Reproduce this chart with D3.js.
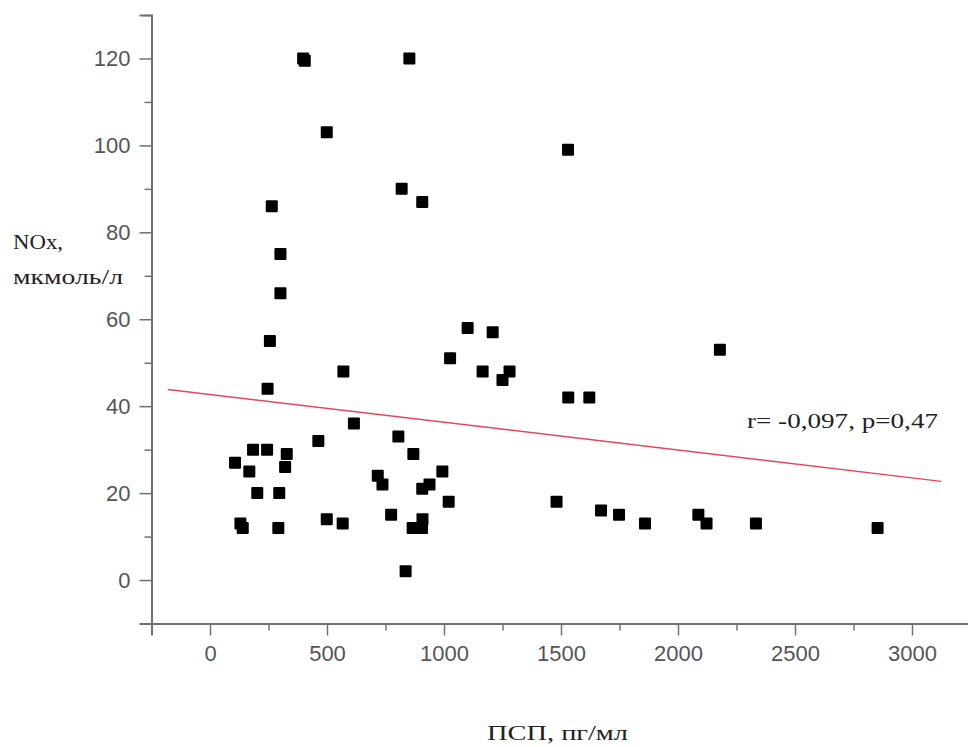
<!DOCTYPE html>
<html>
<head>
<meta charset="utf-8">
<script src="https://cdn.jsdelivr.net/npm/d3@7"></script>
<style>
  html, body { margin: 0; padding: 0; background: #fff; }
  .tick-label { font-family: "Liberation Sans", Arial, sans-serif; font-size: 22px; fill: #555; }
  .title { font-family: "Liberation Serif", "Times New Roman", serif; font-size: 22px; fill: #222; }
</style>
</head>
<body>
<div id="chart"></div>
<script>
// JS module
const WIDTH = 968;
const HEIGHT = 747;

// ПСП, пг/мл
const pspValues = [398, 405, 852, 499, 819, 907, 264, 301, 301, 256, 246, 570, 463, 615,
  107, 168, 184, 244, 328, 321, 202, 296, 130, 140, 292, 499, 567, 805, 869, 717, 737,
  993, 907, 938, 1020, 774, 866, 906, 908, 836, 1101, 1208, 1026, 1165, 1280, 1250,
  1530, 1531, 1621, 1481, 1671, 1748, 1859, 2087, 2122, 2179, 2333, 2853];
// NOx, мкмоль/л
const noxValues = [120, 119.5, 120, 103, 90, 87, 86, 75, 66, 55, 44, 48, 32, 36,
  27, 25, 30, 30, 29, 26, 20, 20, 13, 12, 12, 14, 13, 33, 29, 24, 22,
  25, 21, 22, 18, 15, 12, 12, 14, 2, 58, 57, 51, 48, 48, 46,
  99, 42, 42, 18, 16, 15, 13, 15, 13, 53, 13, 12];

const xMajorTicks = [0, 500, 1000, 1500, 2000, 2500, 3000];
const xMinorTicks = [-250, 250, 750, 1250, 1750, 2250, 2750, 3250];
const yMajorTicks = [0, 20, 40, 60, 80, 100, 120];
const yMinorTicks = [-10, 10, 30, 50, 70, 90, 110, 130];

// linear fit shown on the chart
const fitIntercept = 42.7;
const fitSlope = -0.0064;
const fitRange = [-180, 3125];
const fitLabel = "r= -0,097, p=0,47";

const xTitle = "ПСП, пг/мл";
const yTitleLines = ["NOx,", "мкмоль/л"];

const svg = d3.select("#chart")
  .append("svg")
  .attr("width", WIDTH)
  .attr("height", HEIGHT);

const x = d3.scaleLinear().domain([-250, 3250]).range([151.5, 970.5]);
const y = d3.scaleLinear().domain([-10, 130]).range([623.5, 15]);

const axisColor = "#707070";

// Y axis
const yAxis = svg.append("g").attr("transform", `translate(${x(-250)},0)`);
yAxis.call(d3.axisLeft(y).tickValues(yMajorTicks).tickSize(12).tickPadding(9).tickFormat(d3.format("d")));
yAxis.append("g")
  .call(d3.axisLeft(y).tickValues(yMinorTicks).tickSize(7).tickFormat(""))
  .select(".domain").remove();

// X axis
const xAxis = svg.append("g").attr("transform", `translate(0,${y(-10)})`);
xAxis.call(d3.axisBottom(x).tickValues(xMajorTicks).tickSize(12).tickPadding(10).tickFormat(d3.format("d")));
xAxis.append("g")
  .call(d3.axisBottom(x).tickValues(xMinorTicks).tickSize(7).tickFormat(""))
  .select(".domain").remove();

svg.selectAll(".domain").attr("stroke", axisColor).attr("stroke-width", 2);
svg.selectAll(".tick line").attr("stroke", axisColor).attr("stroke-width", 1.5);
svg.selectAll(".tick text")
  .attr("class", "tick-label")
  .attr("font-family", null)
  .attr("font-size", null)
  .attr("fill", null);

// regression line
svg.append("line")
  .attr("x1", x(fitRange[0]))
  .attr("y1", y(fitIntercept + fitSlope * fitRange[0]))
  .attr("x2", x(fitRange[1]))
  .attr("y2", y(fitIntercept + fitSlope * fitRange[1]))
  .attr("stroke", "#e0485e")
  .attr("stroke-width", 1.5);

// points
const points = pspValues.map((v, i) => ({ psp: v, nox: noxValues[i] }));
const SIZE = 12;
svg.append("g")
  .selectAll("rect")
  .data(points)
  .join("rect")
  .attr("x", d => x(d.psp) - SIZE / 2)
  .attr("y", d => y(d.nox) - SIZE / 2)
  .attr("width", SIZE)
  .attr("height", SIZE)
  .attr("rx", 1)
  .attr("fill", "#000");

// annotation
svg.append("text")
  .attr("class", "title")
  .attr("x", 747)
  .attr("y", 428)
  .attr("textLength", 191)
  .attr("lengthAdjust", "spacingAndGlyphs")
  .text(fitLabel);

// axis titles
svg.append("text")
  .attr("class", "title")
  .attr("x", 487)
  .attr("y", 740)
  .attr("textLength", 141)
  .attr("lengthAdjust", "spacingAndGlyphs")
  .text(xTitle);

svg.append("g")
  .selectAll("text")
  .data(yTitleLines)
  .join("text")
  .attr("class", "title")
  .attr("x", 13)
  .attr("y", (d, i) => 249 + i * 35)
  .attr("textLength", (d, i) => i === 0 ? 50 : 110)
  .attr("lengthAdjust", "spacingAndGlyphs")
  .text(d => d);
</script>
</body>
</html>
